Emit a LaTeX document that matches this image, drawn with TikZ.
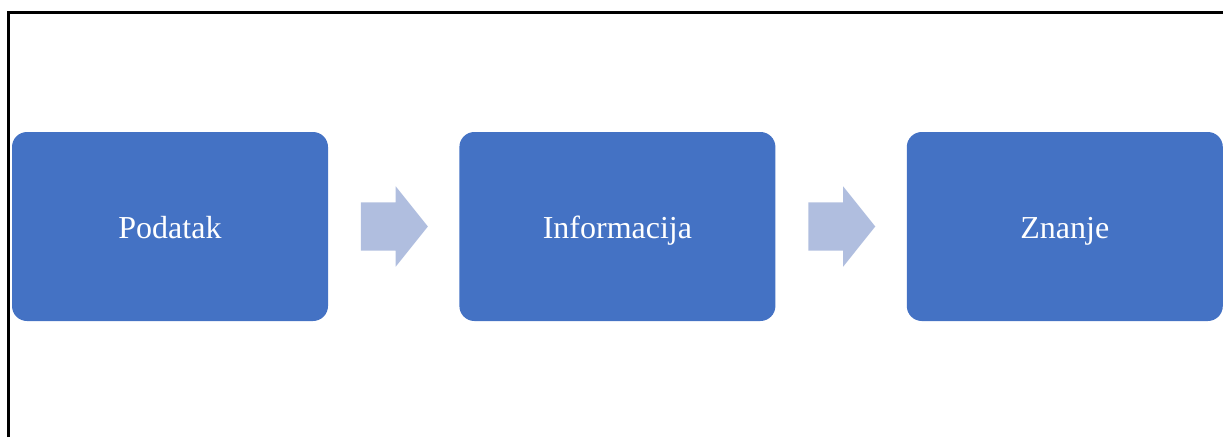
\documentclass[tikz,border=0pt]{standalone}
\usepackage{fontspec}
\setmainfont{Liberation Serif}
\usetikzlibrary{positioning,shapes.arrows,calc}

\definecolor{plava}{RGB}{68,114,196}
\definecolor{svijetla}{RGB}{176,190,223}

\begin{document}
\begin{tikzpicture}[x=1pt,y=-1pt]
\tikzset{pojam/.style={rectangle,fill=plava,rounded corners=15pt,
  minimum width=316pt,minimum height=189pt,inner sep=0pt,
  text height=23pt,text depth=0pt,
  text=white,font=\fontsize{32}{38}\selectfont},
strelica/.style={single arrow,fill=svijetla,draw=none,inner xsep=0pt,
  inner ysep=24pt,minimum height=67pt,single arrow head extend=16pt,
  single arrow tip angle=102.7,single arrow head indent=0pt,xshift=-9pt}}
\useasboundingbox (0,0) rectangle (1223,437);

% okvir
\draw[line width=2.5pt] (8.5,437) -- (8.5,12.5) -- (1223,12.5);

\node[pojam] (podatak) at (170,226.5){Podatak};
\node[pojam,right=131pt of podatak] (informacija){Informacija};
\node[pojam,right=131pt of informacija] (znanje){Znanje};

\node[strelica] (s1) at ($(podatak.east)!0.5!(informacija.west)$){};
\node[strelica] (s2) at ($(informacija.east)!0.5!(znanje.west)$){};

\end{tikzpicture}
\end{document}
